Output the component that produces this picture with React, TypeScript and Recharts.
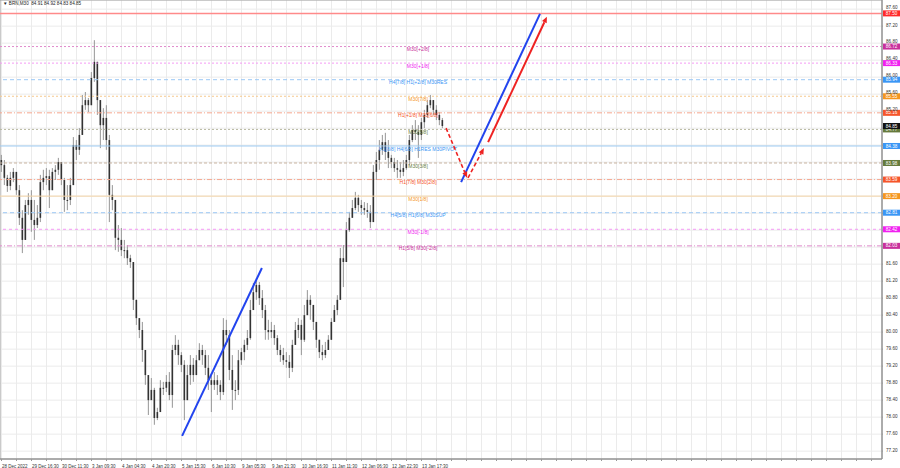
import { ComposedChart, Bar, XAxis, YAxis, CartesianGrid, ReferenceLine, ReferenceArea } from 'recharts'

// BRN M30 bars, one entry per ~3px column of the screenshot
const highs = [
  84.17, 84.05, 83.70, 83.77, 83.86, 83.77, 83.46, 82.87, 83.11, 83.27,
  83.34, 83.11, 82.99, 83.70, 83.82, 83.86, 83.82, 83.86, 83.93, 84.10,
  84.00, 83.63, 83.46, 83.63, 84.59, 84.52, 84.80, 85.58, 85.65, 85.51,
  86.12, 86.87, 86.36, 85.46, 85.27, 85.34, 84.64, 83.46, 82.76, 82.52,
  82.45, 82.17, 82.05, 81.82, 81.65, 80.64, 80.33, 80.24, 79.46, 78.99,
  78.92, 78.69, 78.22, 78.87, 78.83, 78.99, 79.06, 79.70, 79.93, 79.82,
  79.53, 79.34, 79.23, 79.46, 79.39, 79.46, 79.74, 79.70, 79.58, 79.46,
  78.99, 79.06, 78.99, 78.87, 80.33, 80.29, 80.05, 79.46, 78.87, 79.58,
  79.63, 79.82, 80.05, 80.76, 81.16, 81.27, 81.18, 80.99, 80.64, 80.29,
  80.24, 80.17, 79.93, 79.70, 79.63, 79.53, 79.46, 79.82, 80.24, 80.33,
  80.29, 80.64, 80.99, 80.87, 80.57, 80.17, 79.82, 79.70, 79.77, 79.93,
  80.33, 80.64, 80.87, 81.98, 82.05, 82.59, 82.83, 83.11, 83.30, 83.23,
  83.11, 83.06, 83.04, 82.99, 83.93, 84.24, 84.52, 84.64, 84.69, 84.52,
  84.17, 84.10, 84.05, 84.00, 84.05, 84.17, 84.64, 84.87, 84.99, 84.87,
  85.04, 85.23, 85.46, 85.58, 85.46, 85.34, 85.18, 85.04,
]
const lows = [
  83.77, 83.46, 83.30, 83.34, 83.53, 83.23, 82.52, 81.86, 82.36, 82.76,
  82.36, 82.17, 82.45, 82.59, 83.34, 83.46, 82.92, 83.53, 83.58, 83.70,
  83.46, 82.83, 82.87, 82.99, 83.58, 84.05, 84.17, 84.76, 85.23, 85.18,
  85.46, 85.89, 85.11, 84.33, 84.52, 84.29, 82.59, 82.87, 81.93, 81.89,
  81.79, 81.74, 81.58, 81.51, 80.52, 80.17, 79.86, 79.30, 78.76, 78.05,
  78.40, 77.82, 77.93, 78.40, 78.52, 78.59, 78.40, 78.22, 79.46, 79.23,
  79.06, 77.93, 78.52, 78.76, 78.83, 78.99, 79.34, 79.23, 78.99, 78.64,
  78.12, 78.64, 78.52, 78.40, 78.52, 79.70, 78.87, 78.17, 78.40, 78.52,
  79.23, 79.34, 79.58, 79.82, 80.64, 80.76, 80.64, 80.33, 79.82, 79.82,
  79.86, 79.70, 79.46, 79.30, 79.23, 79.16, 78.92, 79.06, 79.70, 79.86,
  79.46, 79.77, 80.47, 80.29, 80.05, 79.63, 79.39, 79.34, 79.39, 79.58,
  79.82, 80.24, 80.40, 80.76, 81.06, 81.65, 82.36, 82.69, 82.87, 82.83,
  82.76, 82.76, 82.69, 82.45, 82.59, 83.58, 83.82, 84.17, 84.05, 83.86,
  83.86, 83.77, 83.63, 83.63, 83.67, 83.82, 83.93, 84.47, 84.52, 84.10,
  84.52, 84.80, 85.04, 85.27, 85.11, 84.99, 84.87, 84.80,
]
const closes = [
  83.93, 83.63, 83.44, 83.63, 83.77, 83.34, 82.69, 82.17, 82.99, 83.11,
  82.64, 82.52, 82.69, 83.53, 83.63, 83.67, 83.34, 83.77, 83.82, 84.00,
  83.58, 83.11, 83.11, 83.46, 84.40, 84.29, 84.64, 85.34, 85.46, 85.34,
  85.98, 86.36, 85.46, 84.87, 85.04, 84.52, 83.23, 83.11, 82.22, 82.17,
  81.93, 81.93, 81.74, 81.65, 80.76, 80.33, 80.05, 79.58, 78.99, 78.40,
  78.64, 77.98, 78.12, 78.69, 78.69, 78.83, 78.52, 79.58, 79.70, 79.46,
  79.23, 78.40, 78.99, 79.23, 78.99, 79.34, 79.58, 79.46, 79.16, 78.87,
  78.76, 78.87, 78.76, 78.59, 80.05, 79.93, 79.11, 78.64, 78.64, 79.34,
  79.53, 79.70, 79.86, 80.52, 80.94, 81.11, 80.80, 80.52, 80.05, 80.00,
  80.05, 79.86, 79.58, 79.46, 79.34, 79.30, 79.16, 79.70, 80.05, 80.17,
  79.82, 80.40, 80.76, 80.64, 80.24, 79.82, 79.53, 79.46, 79.58, 79.82,
  80.24, 80.52, 80.76, 81.74, 81.65, 82.40, 82.69, 82.92, 83.16, 82.99,
  82.92, 82.87, 82.83, 82.59, 83.77, 84.05, 84.29, 84.47, 84.24, 84.10,
  84.00, 83.86, 83.82, 83.77, 83.86, 84.05, 84.52, 84.76, 84.71, 84.64,
  84.94, 85.11, 85.34, 85.46, 85.23, 85.11, 84.99, 84.85,
]
const firstOpen = 84.05

const timeLabels = [
  '28 Dec 2022', '29 Dec 16:30', '30 Dec 11:30', '3 Jan 09:30', '4 Jan 04:30',
  '4 Jan 20:30', '5 Jan 15:30', '6 Jan 10:30', '9 Jan 05:30', '9 Jan 21:30',
  '10 Jan 16:30', '11 Jan 11:30', '12 Jan 06:30', '12 Jan 22:30', '13 Jan 17:30',
]

// Murrey math levels
const levelPrices = [87.50, 86.72, 86.33, 85.94, 85.55, 85.16, 84.77, 84.38, 83.98, 83.59, 83.20, 82.81, 82.42, 82.03]
const levelNames = [
  '', 'M30[+2/8]', 'M30[+1/8]', 'H4[7/8] H1[+2/8] M30RES', 'M30[7/8]', 'H1[+1/8] M30[6/8]', 'M30[5/8]',
  'H1[8/8] H4[6/8] H1RES M30PIVOT', 'M30[3/8]', 'H1[7/8] M30[2/8]', 'M30[1/8]', 'H4[5/8] H1[6/8] M30SUP',
  'M30[-1/8]', 'H1[5/8] M30[-2/8]',
]
const bidPrice = 84.85

// trend lines: [barFrom, priceFrom, barTo, priceTo]
const blueLow = [60.2, 77.56, 86.8, 81.51]
const blueHigh = [153.2, 83.53, 179.5, 87.49]
const redDown = [148.2, 84.80, 155.2, 83.63]
const redUp = [155.5, 83.63, 160.8, 84.33]
const redLong = [162.2, 84.47, 181.8, 87.42]

const levelStyles = [
  { color: '#ff2a2a', line: '#ff8a8a', dash: undefined, width: 1.5 },
  { color: '#c8309c', line: '#e08ccc', dash: '2 2', width: 1 },
  { color: '#f020f0', line: '#f49af4', dash: '2 2', width: 1 },
  { color: '#3a96f5', line: '#9cc8f5', dash: '4 3', width: 1 },
  { color: '#f5961e', line: '#f6c98e', dash: '2 2', width: 1 },
  { color: '#f5552a', line: '#f5a890', dash: '5 2 1 2', width: 1 },
  { color: '#667a3c', line: '#b8b8a0', dash: '2 2', width: 1 },
  { color: '#3a96f5', line: '#9ccaf2', dash: undefined, width: 1 },
  { color: '#667a3c', line: '#c8b4a0', dash: '3 2', width: 1 },
  { color: '#f5552a', line: '#f5a890', dash: '5 2 1 2', width: 1 },
  { color: '#f5961e', line: '#f6d6a8', dash: undefined, width: 1 },
  { color: '#3a96f5', line: '#9cc8f5', dash: '4 3', width: 1 },
  { color: '#f020f0', line: '#f49af4', dash: '3 3', width: 1 },
  { color: '#c8309c', line: '#e08ccc', dash: '5 2 1 2', width: 1 },
]

const FONT = '"Liberation Sans", Arial, sans-serif'
const X_MAX = 293.5

const candles = closes.map((c, i) => {
  const open = i === 0 ? firstOpen : closes[i - 1]
  const high = Math.max(highs[i], open, c)
  const low = Math.min(lows[i], open, c)
  return { i, open, close: c, high, low, range: [low, high] }
})

const xTicks: number[] = []
for (let k = 0; k <= 290; k += 5) xTicks.push(k)
const yTicks: number[] = []
for (let v = 77.2; v < 87.7; v += 0.4) yTicks.push(Math.round(v * 100) / 100)

const tagPrices = [...levelPrices, bidPrice]
// price scale labels that sit under a level tag are covered in the terminal
const hiddenTick = (v: number) => tagPrices.some((p) => Math.abs(p - v) < 0.035)
// labels just above a tag peek out over it
const liftedTick = (v: number) => tagPrices.some((p) => v - p >= 0.035 && v - p < 0.12)

const Candle = (props: any) => {
  const { x, y, width, height, payload } = props
  if (x == null || !payload) return null
  const { open, close, high, low } = payload
  const cx = x + width / 2
  const k = height / (high - low)
  const top = y + (high - Math.max(open, close)) * k
  const bot = y + (high - Math.min(open, close)) * k
  return (
    <g>
      <line x1={cx} x2={cx} y1={y} y2={y + height} stroke="#959595" strokeWidth={1} />
      <rect x={cx - 0.8} y={top} width={1.6} height={Math.max(bot - top, 1)} fill="#333333" />
    </g>
  )
}

const LevelTag = (props: any) => {
  const { viewBox, text, price, color, textColor } = props
  if (!viewBox) return null
  const { x, y, width } = viewBox
  return (
    <g fontFamily={FONT}>
      {text ? (
        <text x={x + width * 0.474} y={y + 3.2} textAnchor="middle" dominantBaseline="middle" fontSize={5} fill={textColor || color}>
          {text}
        </text>
      ) : null}
      <rect x={x + width + 1} y={y - 3} width={17} height={6} fill={color} />
      <text x={x + width + 9.5} y={y + 0.3} textAnchor="middle" dominantBaseline="middle" fontSize={4.6} fill="#ffffff">
        {price.toFixed(2)}
      </text>
    </g>
  )
}

const YTick = (props: any) => {
  const { x, y, payload } = props
  const v = payload.value
  if (hiddenTick(v)) return null
  return (
    <text
      x={x + 1}
      y={liftedTick(v) ? y - 1.6 : y}
      fontSize={4.6}
      fill="#333"
      fontFamily={FONT}
      textAnchor="start"
      dominantBaseline="middle"
    >
      {v.toFixed(2)}
    </text>
  )
}

const arrowShape = (color: string, width: number, dash?: string, head?: boolean) => (props: any) => {
  const { x1, y1, x2, y2 } = props
  if (x1 == null) return null
  const dx = x2 - x1
  const dy = y2 - y1
  const len = Math.sqrt(dx * dx + dy * dy) || 1
  const ux = dx / len
  const uy = dy / len
  const hl = 6
  const hw = 2.6
  const bx = x2 - ux * hl
  const by = y2 - uy * hl
  return (
    <g>
      <line x1={x1} y1={y1} x2={head ? bx : x2} y2={head ? by : y2} stroke={color} strokeWidth={width} strokeDasharray={dash} />
      {head ? (
        <polygon points={`${x2},${y2} ${bx - uy * hw},${by + ux * hw} ${bx + uy * hw},${by - ux * hw}`} fill={color} />
      ) : null}
    </g>
  )
}

const seg = (s: number[]) => [
  { x: s[0], y: s[1] },
  { x: s[2], y: s[3] },
]

const XTick = (props: any) => {
  const { x, y, payload } = props
  const v = payload.value
  const idx = v / 10
  if (v % 10 !== 0 || idx >= timeLabels.length) return null
  return (
    <text x={x + 0.5} y={y + 5} fontSize={4.5} fill="#333" fontFamily={FONT} textAnchor="start">
      {timeLabels[idx]}
    </text>
  )
}

export default function App() {
  return (
    <div style={{ position: 'relative', width: 900, height: 468, background: '#fff' }}>
      <style>{'body{margin:0}'}</style>
      <div
        style={{
          position: 'absolute',
          left: 3,
          top: 1,
          fontSize: 4.6,
          fontFamily: FONT,
          color: '#222',
          whiteSpace: 'pre',
          zIndex: 2,
        }}
      >
        {'▼ BRN,M30  84.91 84.92 84.83 84.85'}
      </div>
      <ComposedChart width={900} height={468} data={candles} margin={{ top: 0, right: 0, bottom: 0, left: 0 }}>
        <CartesianGrid stroke="#ebebeb" strokeWidth={1} />
        <XAxis
          type="number"
          dataKey="i"
          domain={[-0.5, X_MAX]}
          ticks={xTicks}
          interval={0}
          allowDataOverflow
          height={9}
          tick={<XTick />}
          tickSize={2}
          tickLine={{ stroke: '#999' }}
          axisLine={{ stroke: '#8c8c8c' }}
        />
        <YAxis
          orientation="right"
          type="number"
          domain={[77.015, 87.815]}
          ticks={yTicks}
          interval={0}
          allowDataOverflow
          width={18}
          tickSize={1}
          tick={<YTick />}
          tickLine={{ stroke: '#999' }}
          axisLine={{ stroke: '#8c8c8c' }}
        />
        <ReferenceArea x1={-0.5} x2={X_MAX} y1={77.015} y2={87.815} fill="none" stroke="#a0a0a0" strokeWidth={1} />
        {levelPrices.map((p, k) => (
          <ReferenceLine
            key={p}
            y={p}
            stroke={levelStyles[k].line}
            strokeWidth={levelStyles[k].width}
            strokeDasharray={levelStyles[k].dash}
            label={<LevelTag text={levelNames[k]} price={p} color={levelStyles[k].color} />}
          />
        ))}
        <ReferenceLine y={bidPrice} stroke="none" label={<LevelTag text="" price={bidPrice} color="#111111" />} />
        <Bar dataKey="range" barSize={3} shape={(p: any) => <Candle {...p} />} isAnimationActive={false} />
        <ReferenceLine segment={seg(blueLow)} shape={arrowShape('#2244ee', 2)} />
        <ReferenceLine segment={seg(blueHigh)} shape={arrowShape('#2244ee', 2)} />
        <ReferenceLine segment={seg(redLong)} shape={arrowShape('#ee2222', 2, undefined, true)} />
        <ReferenceLine segment={seg(redDown)} shape={arrowShape('#ee2222', 1.6, '4 2.5', true)} />
        <ReferenceLine segment={seg(redUp)} shape={arrowShape('#ee2222', 1.6, '4 2.5', true)} />
      </ComposedChart>
    </div>
  )
}
